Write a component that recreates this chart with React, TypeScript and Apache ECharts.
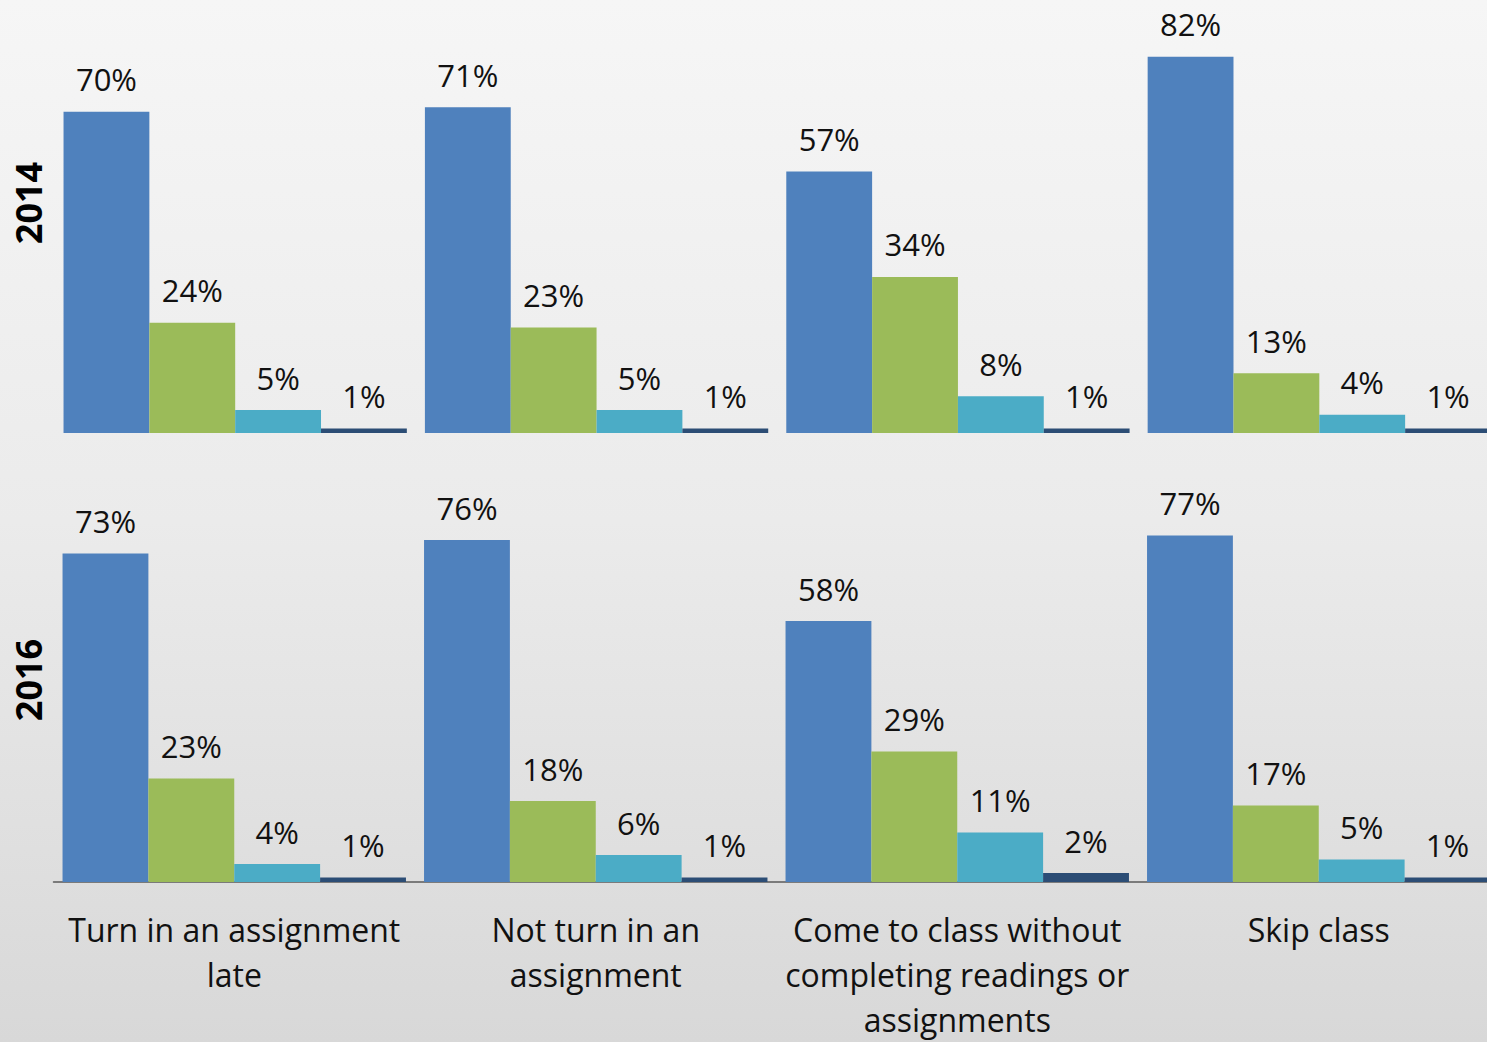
import React, { useEffect, useRef } from "react";
import * as echarts from "echarts";

const categories = [
  "Turn in an assignment\nlate",
  "Not turn in an\nassignment",
  "Come to class without\ncompleting readings or\nassignments",
  "Skip class",
];
const rowLabels = ["2014", "2016"];
const seriesNames = ["Response 1", "Response 2", "Response 3", "Response 4"];
const colors = ["#4f81bd", "#9bbb59", "#4bacc6", "#2c4d75"];

const values2014A = [70, 71, 57, 82];
const values2014B = [24, 23, 34, 13];
const values2014C = [5, 5, 8, 4];
const values2014D = [1, 1, 1, 1];

const values2016A = [73, 76, 58, 77];
const values2016B = [23, 18, 29, 17];
const values2016C = [4, 6, 11, 5];
const values2016D = [1, 1, 2, 1];

const rows2014 = [values2014A, values2014B, values2014C, values2014D];
const rows2016 = [values2016A, values2016B, values2016C, values2016D];

const FONT = "'Open Sans', 'DejaVu Sans', sans-serif";

export default function App() {
  const ref = useRef<HTMLDivElement>(null);

  useEffect(() => {
    if (!ref.current) return;
    const chart = echarts.init(ref.current, null, { renderer: "svg" });

    const makeSeries = (rows: number[][], axisIndex: number) =>
      rows.map((vals, i) => ({
        name: seriesNames[i],
        type: "bar",
        xAxisIndex: axisIndex,
        yAxisIndex: axisIndex,
        data: vals,
        barGap: "0%",
        barCategoryGap: "5%",
        itemStyle: { color: colors[i] },
        label: {
          show: true,
          position: "top",
          distance: 17,
          formatter: "{c}%",
          fontFamily: FONT,
          fontSize: 31,
          color: "#111",
        },
      }));

    chart.setOption({
      animation: false,
      backgroundColor: {
        type: "linear",
        x: 0,
        y: 0,
        x2: 0,
        y2: 1,
        colorStops: [
          { offset: 0, color: "#f6f6f6" },
          { offset: 0.5, color: "#ebebeb" },
          { offset: 1, color: "#d8d8d8" },
        ],
      },
      grid: [
        { left: 54.5, width: 1446, top: 20, height: 413 },
        { left: 53.5, width: 1446, top: 477, height: 407 },
      ],
      xAxis: [
        {
          type: "category",
          gridIndex: 0,
          data: categories,
          axisLine: { show: false },
          axisTick: { show: false },
          axisLabel: { show: false },
        },
        {
          type: "category",
          gridIndex: 1,
          data: categories,
          axisLine: { show: true, lineStyle: { color: "#5a5a5a", width: 1.5 } },
          axisTick: { show: false },
          axisLabel: {
            show: true,
            interval: 0,
            margin: 25,
            fontFamily: FONT,
            fontSize: 32,
            lineHeight: 45,
            color: "#111",
            align: "center",
            verticalAlign: "top",
          },
        },
      ],
      yAxis: [
        {
          type: "value",
          gridIndex: 0,
          min: 0,
          max: 90,
          show: false,
          splitLine: { show: false },
        },
        {
          type: "value",
          gridIndex: 1,
          min: 0,
          max: 90,
          show: false,
          splitLine: { show: false },
        },
      ],
      graphic: [
        {
          type: "text",
          x: 28,
          y: 203,
          rotation: Math.PI / 2,
          style: {
            text: rowLabels[0],
            fontFamily: FONT,
            fontWeight: "bold",
            fontSize: 36,
            fill: "#000",
            align: "center",
            verticalAlign: "middle",
          },
        },
        {
          type: "text",
          x: 28,
          y: 680,
          rotation: Math.PI / 2,
          style: {
            text: rowLabels[1],
            fontFamily: FONT,
            fontWeight: "bold",
            fontSize: 36,
            fill: "#000",
            align: "center",
            verticalAlign: "middle",
          },
        },
      ],
      series: [...makeSeries(rows2014, 0), ...makeSeries(rows2016, 1)],
    });

    return () => chart.dispose();
  }, []);

  return (
    <div
      style={{
        position: "fixed",
        left: 0,
        top: 0,
        width: 1487,
        height: 1042,
        overflow: "hidden",
      }}
    >
      <div ref={ref} style={{ width: 1500, height: 1042 }} />
    </div>
  );
}
